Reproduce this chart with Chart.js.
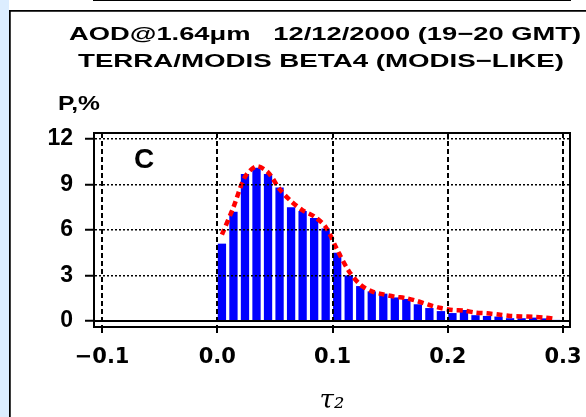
<!DOCTYPE html>
<html>
<head>
<meta charset="utf-8">
<script src="https://cdn.jsdelivr.net/npm/chart.js@4/dist/chart.umd.min.js"></script>
<style>
  html, body { margin:0; padding:0; background:#fff; }
  canvas { display:block; }
</style>
</head>
<body>
<canvas id="myChart" width="586" height="417"></canvas>
<script>
'use strict';
// tau_2 bin centres (bars start at 0.00, 0.01, 0.02 ...)
let tauBins=[
  0.004,0.014,0.024,0.034,0.044,0.054,0.064,0.074,0.084,0.094,
  0.104,0.114,0.124,0.134,0.144,0.154,0.164,0.174,0.184,0.194,
  0.204,0.214,0.224,0.234,0.244,0.254,0.264,0.274,0.284,0.294
];
// histogram, P in %
let barPercent=[
  5.1,7.2,9.7,10.1,9.7,8.8,7.5,7.25,6.8,6.1,
  4.5,3.0,2.3,1.95,1.8,1.55,1.45,1.1,0.85,0.65,
  0.52,0.72,0.38,0.33,0.29,0.18,0.18,0.22,0.17,0.07
];
// red dashed curve (MODIS-like)
let fitPercent=[
  5.7,7.5,9.5,10.2,9.8,8.7,7.9,7.3,6.9,6.2,
  4.7,3.3,2.4,1.95,1.75,1.6,1.5,1.3,1.05,0.85,
  0.72,0.68,0.55,0.5,0.42,0.33,0.3,0.27,0.22,0.12
];
let xTickValues=[-0.1,0.0,0.1,0.2,0.3];
let yTickValues=[0,3,6,9,12];
let titleLines=[
  'AOD@1.64\u03bcm   12/12/2000 (19\u221220 GMT)',
  'TERRA/MODIS BETA4 (MODIS\u2212LIKE)'
];
let panelLabel='C';
let yUnitLabel='P,%';

let barPoints=[];
let fitPoints=[];
for(let i=0; i<tauBins.length; i++){
  barPoints.push({x:tauBins[i], y:barPercent[i]});
  fitPoints.push({x:tauBins[i], y:fitPercent[i]});
}

// stretch text to a given width (the old plot font is wide)
function wideText(ctx, text, x, y, width){
  let w=ctx.measureText(text).width;
  ctx.save();
  ctx.translate(x, y);
  ctx.scale(width/w, 1);
  ctx.fillText(text, 0, 0);
  ctx.restore();
}

function panelEdge(chart){
  let ctx=chart.ctx;
  ctx.save();
  ctx.fillStyle='#dcedff';
  ctx.fillRect(0,0,9,chart.height);
  ctx.fillStyle='#000';
  ctx.fillRect(9,10,1.5,chart.height-10);
  ctx.fillRect(9,10,chart.width-9,1.5);
  ctx.restore();
}

let decor={
  id:'decor',
  beforeDraw(chart){
    panelEdge(chart);
  },
  afterDraw(chart){
    let ctx=chart.ctx;
    let area=chart.chartArea;
    let y0=chart.scales.y.getPixelForValue(0);
    panelEdge(chart);
    ctx.save();
    ctx.strokeStyle='#000';
    ctx.lineWidth=2;
    ctx.strokeRect(area.left, area.top, area.right-area.left, area.bottom-area.top);
    ctx.beginPath();
    ctx.moveTo(area.left, y0);
    ctx.lineTo(area.right, y0);
    ctx.stroke();

    ctx.fillStyle='#000';
    ctx.textAlign='center';
    ctx.textBaseline='middle';
    ctx.font='bold 19px "Liberation Sans", Arial, sans-serif';
    wideText(ctx, titleLines[0], 325, 35, 512);
    wideText(ctx, titleLines[1], 321, 62, 486);

    ctx.textAlign='left';
    ctx.font='bold 21px "Liberation Sans", Arial, sans-serif';
    wideText(ctx, yUnitLabel, 58, 104, 42);

    ctx.textAlign='center';
    ctx.font='bold 28px "Liberation Sans", Arial, sans-serif';
    ctx.fillText(panelLabel, area.left+50, area.top+27);
    ctx.restore();
  }
};

let ctx=document.getElementById('myChart').getContext('2d');
let myChart=new Chart(ctx, {
  type:'bar',
  data:{
    datasets:[{
      type:'line',
      label:'MODIS-like',
      data:fitPoints,
      borderColor:'#ff0000',
      borderWidth:4.5,
      borderDash:[6,4],
      pointRadius:0,
      tension:0.3,
      order:0
    },
    {
      label:'Beta4',
      data:barPoints,
      backgroundColor:'#0000ff',
      borderWidth:0,
      barPercentage:0.72,
      categoryPercentage:1,
      order:1
    }]
  },
  options:{
    responsive:false,
    animation:false,
    devicePixelRatio:1,
    layout:{padding:{left:10, right:16, top:133, bottom:0}},
    plugins:{
      legend:{display:false},
      tooltip:{enabled:false}
    },
    scales:{
      x:{
        type:'linear',
        offset:false,
        min:-0.107,
        max:0.306,
        afterBuildTicks(scale){
          scale.ticks=xTickValues.map(v=>({value:v}));
        },
        afterFit(scale){
          scale.height=90;
          scale.paddingLeft=0;
          scale.paddingRight=0;
        },
        grid:{offset:false, color:'#000', lineWidth:2, z:1, tickLength:6, tickColor:'#000', tickWidth:2},
        border:{display:true, color:'#000', width:2, dash:[5,3]},
        ticks:{
          color:'#000',
          font:{family:'DejaVu Sans', weight:'bold', size:21},
          padding:12,
          maxRotation:0,
          autoSkip:false,
          callback:function(v){
            return v<0 ? '\u2212'+Math.abs(v).toFixed(1) : v.toFixed(1);
          }
        },
        title:{
          display:true,
          text:'\u03c4\u2082',
          color:'#000',
          font:{family:'DejaVu Serif', style:'italic', size:26},
          padding:{top:0, bottom:0}
        }
      },
      y:{
        min:-0.4,
        max:12.4,
        afterBuildTicks(scale){
          scale.ticks=yTickValues.map(v=>({value:v}));
        },
        afterFit(scale){
          scale.width=84;
        },
        grid:{color:'#000', lineWidth:1.5, z:1, tickLength:9, tickColor:'#000', tickWidth:2},
        border:{display:true, color:'#000', width:2, dash:[2,2]},
        ticks:{
          color:'#000',
          font:{family:'Liberation Sans', weight:'bold', size:23},
          padding:12
        }
      }
    }
  },
  plugins:[decor]
});
</script>
</body>
</html>
